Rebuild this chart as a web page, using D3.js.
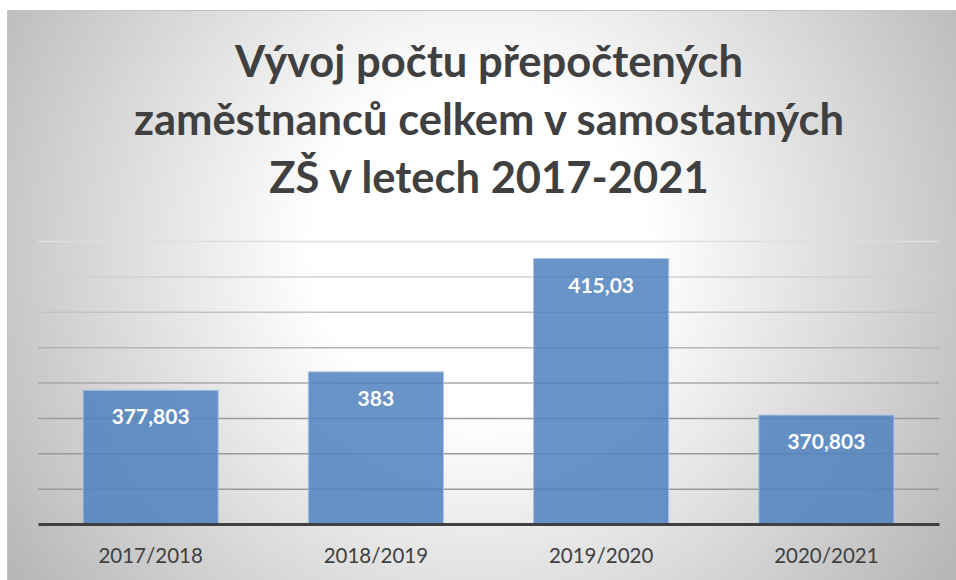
<!DOCTYPE html>
<html>
<head>
<meta charset="utf-8">
<script src="https://cdn.jsdelivr.net/npm/d3@7"></script>
<style>
  body { margin: 0; background: #fff; }
  svg { display: block; }
</style>
</head>
<body>
<div id="chart"></div>
<script>
var titleLines = ["Vývoj počtu přepočtených", "zaměstnanců celkem v samostatných", "ZŠ v letech 2017-2021"];
var years = ["2017/2018", "2018/2019", "2019/2020", "2020/2021"];
var values = [377.803, 383, 415.03, 370.803];
var yTicks = [340, 350, 360, 370, 380, 390, 400, 410, 420];

var width = 956, height = 580;
var margin = { top: 241, right: 17, bottom: 56, left: 38 };

var svg = d3.select("#chart").append("svg")
  .attr("width", width)
  .attr("height", height);

var defs = svg.append("defs");
var bg = defs.append("radialGradient")
  .attr("id", "bg")
  .attr("gradientUnits", "userSpaceOnUse")
  .attr("cx", 480).attr("cy", 250).attr("r", 560);
bg.append("stop").attr("offset", "0%").attr("stop-color", "#ffffff");
bg.append("stop").attr("offset", "30%").attr("stop-color", "#ffffff");
bg.append("stop").attr("offset", "100%").attr("stop-color", "#b8b8b8");

// chart frame
svg.append("rect")
  .attr("x", 7.5).attr("y", 10.5)
  .attr("width", width).attr("height", height)
  .attr("fill", "url(#bg)")
  .attr("stroke", "#c4c4c4");

var title = svg.append("text")
  .attr("text-anchor", "middle")
  .attr("font-family", "Lato, 'Open Sans', sans-serif")
  .attr("font-weight", "bold")
  .attr("font-size", 43.5)
  .attr("fill", "#404040");

title.selectAll("tspan")
  .data(titleLines)
  .join("tspan")
  .attr("x", 489)
  .attr("y", (d, i) => 77 + i * 58)
  .text(d => d);

var x = d3.scaleBand()
  .domain(years)
  .range([margin.left, width - margin.right])
  .paddingInner(0.4)
  .paddingOuter(0.2);

var y = d3.scaleLinear()
  .domain([340, 420])
  .range([height - margin.bottom, margin.top]);

var gridColor = d3.scaleLinear()
  .domain([420, 370])
  .range(["#dedede", "#9a9a9a"])
  .clamp(true);

svg.append("g")
  .selectAll("line")
  .data(yTicks.slice(1))
  .join("line")
  .attr("x1", margin.left)
  .attr("x2", width - margin.right)
  .attr("y1", d => y(d) + 0.5)
  .attr("y2", d => y(d) + 0.5)
  .attr("stroke", d => gridColor(d))
  .attr("stroke-width", 1.5);

svg.append("g")
  .selectAll("rect")
  .data(values)
  .join("rect")
  .attr("x", (d, i) => x(years[i]))
  .attr("y", d => y(d))
  .attr("width", x.bandwidth())
  .attr("height", d => y(340) - y(d))
  .attr("fill", "#4f81bd")
  .attr("fill-opacity", 0.85)
  .attr("stroke", "#a9c4e6")
  .attr("stroke-width", 1);

svg.append("g")
  .selectAll("text")
  .data(values)
  .join("text")
  .attr("x", (d, i) => x(years[i]) + x.bandwidth() / 2)
  .attr("y", d => y(d) + 34)
  .attr("text-anchor", "middle")
  .attr("font-family", "Lato, 'Open Sans', sans-serif")
  .attr("font-weight", "bold")
  .attr("font-size", 21)
  .attr("fill", "#ffffff")
  .text(d => String(d).replace(".", ","));

var xAxis = svg.append("g")
  .attr("transform", "translate(0," + y(340) + ")")
  .call(d3.axisBottom(x).tickSize(0).tickPadding(24));

xAxis.select(".domain")
  .attr("stroke", "#404040")
  .attr("stroke-width", 3);

xAxis.selectAll("text")
  .attr("font-family", "Lato, 'Open Sans', sans-serif")
  .attr("font-size", 20.5)
  .attr("fill", "#404040");
</script>
</body>
</html>
